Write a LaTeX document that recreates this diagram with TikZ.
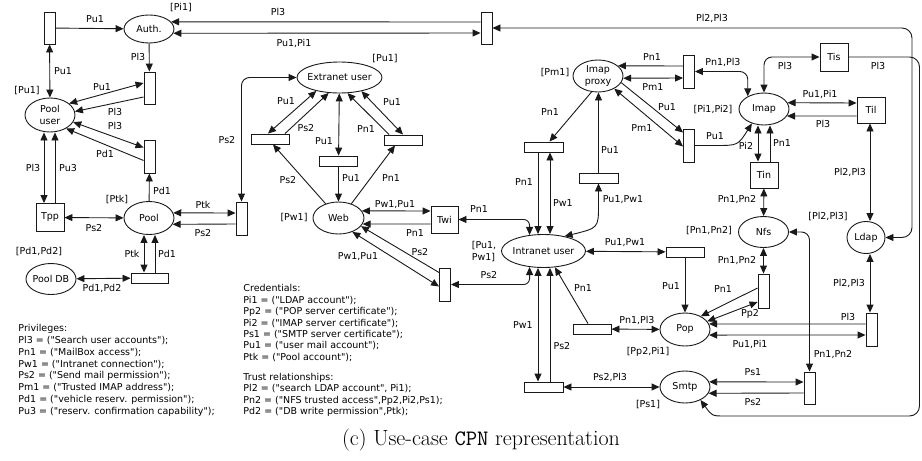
\documentclass[tikz,border=0pt]{standalone}
\usepackage{fontspec}
\newfontfamily\dvs{DejaVu Sans}
\usetikzlibrary{arrows.meta,shapes.geometric}
\newcommand\lblfont{\dvs\fontsize{9.5}{11.6}\selectfont}
\begin{document}
\begin{tikzpicture}[x=1pt,y=-1pt,>={Triangle[length=8pt,width=7pt]},line width=0.9pt,draw=black!90,
 place/.style={draw,ellipse,inner sep=0pt},
 vt/.style={draw,rectangle,inner sep=0pt,minimum width=11pt,minimum height=33pt},
 ht/.style={draw,rectangle,inner sep=0pt,minimum width=38pt,minimum height=10pt},
 bt/.style={draw,rectangle,inner sep=0pt,minimum width=28pt,minimum height=27pt,font=\lblfont},
 lbl/.style={font=\lblfont,inner sep=0pt},
 txt/.style={inner sep=0pt,align=left,anchor=north west}]
\useasboundingbox (0,0) rectangle (922,461);

% ---------- places ----------
\node[place,minimum width=50pt,minimum height=28pt,label={[lbl]center:Auth.}] (auth) at (149,29) {};
\node[place,minimum width=50pt,minimum height=34pt,label={[lbl,align=center]center:{Pool\\user}}] (pooluser) at (50,115) {};
\node[place,minimum width=50pt,minimum height=33pt,label={[lbl]center:Pool}] (pool) at (149,218) {};
\node[place,minimum width=50pt,minimum height=31pt,label={[lbl]center:Pool DB}] (pooldb) at (51,279) {};
\node[place,minimum width=85pt,minimum height=31pt,label={[lbl]center:Extranet user}] (extranet) at (339.5,77.5) {};
\node[place,minimum width=51pt,minimum height=32pt,label={[lbl]center:Web}] (web) at (338.5,218) {};
\node[place,minimum width=84pt,minimum height=33pt,label={[lbl]center:Intranet user}] (intranet) at (543.5,251) {};
\node[place,minimum width=50pt,minimum height=32pt,label={[lbl,align=center]center:{Imap\\proxy}}] (imapproxy) at (598,76) {};
\node[place,minimum width=50pt,minimum height=32pt,label={[lbl]center:Imap}] (imap) at (764,109) {};
\node[place,minimum width=50pt,minimum height=31pt,label={[lbl]center:Nfs}] (nfs) at (763.5,232) {};
\node[place,minimum width=38pt,minimum height=32pt,label={[lbl]center:Ldap}] (ldap) at (866,237.5) {};
\node[place,minimum width=50pt,minimum height=33pt,label={[lbl]center:Pop}] (pop) at (685,329.5) {};
\node[place,minimum width=50pt,minimum height=32pt,label={[lbl]center:Smtp}] (smtp) at (685,387) {};

% ---------- transitions ----------
\node[vt,minimum height=32pt] (t1) at (49.5,28) {};
\node[vt,minimum height=32pt] (tpa) at (149.5,88) {};
\node[vt] (tpd) at (149.5,156.5) {};
\node[bt,minimum height=28pt] (tpp) at (50,217.5) {Tpp};
\node[vt] (tpk) at (241.5,218.5) {};
\node[ht,minimum width=37pt] (tpool) at (149.5,278) {};
\node[vt,minimum height=32pt] (tauth) at (486.5,28) {};
\node[ht] (tel) at (270,139) {};
\node[ht] (tem) at (338.5,161) {};
\node[ht] (ter) at (403,140) {};
\node[bt,minimum width=27pt] (twi) at (444.5,219.5) {Twi};
\node[vt] (tws) at (445,284.5) {};
\node[ht,minimum width=39pt] (tia) at (543.5,147) {};
\node[ht,minimum width=39pt] (tpu) at (598.5,178) {};
\node[vt] (tip) at (689,71.5) {};
\node[vt] (tmi) at (689,145.5) {};
\node[bt,minimum height=28pt] (tis) at (834,57) {Tis};
\node[bt,minimum height=26pt] (til) at (871,110) {Til};
\node[bt,minimum height=26pt] (tin) at (764,175) {Tin};
\node[vt,minimum height=34pt] (tnp) at (763.5,291) {};
\node[ht] (tup) at (685,252) {};
\node[ht] (tpl) at (592,329) {};
\node[vt] (tlp) at (871.5,329.5) {};
\node[ht,minimum width=39pt] (tib) at (543.5,387) {};
\node[vt,minimum height=32pt] (tsm) at (809.5,388) {};

% ---------- markings ----------
\node[lbl] (m1) at (181,8) {[Pi1]};
\node[lbl] (m2) at (27,91) {[Pu1]};
\node[lbl] (m3) at (117,200) {[Ptk]};
\node[lbl] (m4) at (39,252) {[Pd1,Pd2]};
\node[lbl] (m5) at (385,59) {[Pu1]};
\node[lbl] (m6) at (294,218) {[Pw1]};
\node[lbl,align=left] (m7) at (484,251.5) {[Pu1,\\Pw1]};
\node[lbl] (m8) at (555,73) {[Pm1]};
\node[lbl] (m9) at (713,110) {[Pi1,Pi2]};
\node[lbl] (m10) at (709,231) {[Pn1,Pn2]};
\node[lbl] (m11) at (828,217) {[Pl2,Pl3]};
\node[lbl] (m12) at (648,352) {[Pp2,Pi1]};
\node[lbl] (m13) at (648,405) {[Ps1]};

% ---------- connectors: left part ----------
\draw[->] (t1) -- (auth) node[lbl] at (95,19) {Pu1};
\draw[<->] (t1) -- (pooluser) node[lbl] at (63,71) {Pu1};
\draw[->] ([yshift=6pt]tauth.west) -- (auth.18) node[lbl] at (278,12) {Pl3};
\draw[<->] (auth.-10) -- ([yshift=-5pt]tauth.west) node[lbl] at (294,43) {Pu1,Pi1};
\draw[->] (auth) -- (tpa) node[lbl] at (138,57) {Pl3};
\draw[<->] (pooluser.31) -- ([yshift=5pt]tpa.west) node[lbl] at (102,87) {Pu1};
\draw[->] ([yshift=-9pt]tpa.west) -- (pooluser.8) node[lbl] at (115,112) {Pl3};
\draw[<->] (pooluser.-17) -- ([yshift=9pt]tpd.west) node[lbl] at (115,126) {Pl3};
\draw[->] ([yshift=-4pt]tpd.west) -- (pooluser.-40) node[lbl] at (105,154) {Pd1};
\draw[->] (pool) -- (tpd) node[lbl] at (162,191) {Pd1};
\draw[<->] ([xshift=-6pt]tpp.north) -- ([xshift=-6pt]tpp.north |- pooluser.south) node[lbl] at (33,168) {Pl3};
\draw[->] ([xshift=5pt]tpp.north) -- ([xshift=5pt]tpp.north |- pooluser.south) node[lbl] at (68,168) {Pu3};
\draw[<->] (tpp) -- (pool) node[lbl] at (94,228) {Ps2};
\draw[<->] (pool.12) -- ([yshift=5.5pt]tpk.west) node[lbl] at (203,205) {Ptk};
\draw[->] ([yshift=-5.5pt]tpk.west) -- (pool.-15) node[lbl] at (203,233) {Ps2};
\draw[<->,rounded corners=8pt] (tpk.north) |- (extranet.west) node[lbl] at (227,140) {Ps2};
\draw[<->] ([xshift=-5.5pt]tpool.north) -- ([xshift=-5.5pt]tpool.north |- pool.south) node[lbl] at (132,254) {Ptk};
\draw[->] ([xshift=5.5pt]tpool.north) -- ([xshift=5.5pt]tpool.north |- pool.south) node[lbl] at (167,254) {Pd1};
\draw[<->] (pooldb) -- (tpool) node[lbl] at (102,288) {Pd1,Pd2};

% ---------- extranet / web ----------
\draw[<->] (extranet.-150) -- ([xshift=-2pt]tel.north) node[lbl] at (286,101) {Pu1};
\draw[->] ([xshift=15pt]tel.north) -- (extranet.-125) node[lbl] at (306,128) {Ps2};
\draw[<->] (tem) -- (extranet) node[lbl] at (324,141) {Pu1};
\draw[->] (tem) -- (web) node[lbl] at (351,178) {Pu1};
\draw[->] ([xshift=-14pt]ter.north) -- (extranet.-63) node[lbl] at (366,129) {Pn1};
\draw[<->] (extranet.-32) -- (ter.north) node[lbl] at (392,102) {Pu1};
\draw[->] (web.132) -- ([xshift=3pt]tel.south) node[lbl] at (288,180) {Ps2};
\draw[->] (web.48) -- ([xshift=-8pt]ter.south) node[lbl] at (391,178) {Pn1};
\draw[<->] (web.17) -- ([yshift=8.5pt]twi.west) node[lbl] at (395,205) {Pw1,Pu1};
\draw[->] ([yshift=-4.5pt]twi.west) -- (web.-14) node[lbl] at (415,233) {Pn1};
\draw[->] ([yshift=12pt]tws.west) -- (web.-20) node[lbl] at (420,252) {Ps2};
\draw[<->] (web.-45) -- ([yshift=-2pt]tws.west) node[lbl] at (358,257) {Pw1,Pu1};
\draw[<->,rounded corners=6pt] (tws.east) -| (intranet.-131) node[lbl] at (489,275) {Ps2};
\draw[<->,rounded corners=6pt] (twi.east) -| (intranet.131) node[lbl] at (479,209) {Pn1};

% ---------- intranet / imap proxy ----------
\draw[->] ([xshift=-5.5pt]tia.south) -- ([xshift=-5.5pt]tia.south |- intranet.north) node[lbl] at (524,182) {Pn1};
\draw[<->] ([xshift=6.5pt]tia.south) -- ([xshift=6.5pt]tia.south |- intranet.north) node[lbl] at (563,203) {Pw1};
\draw[->] (imapproxy.-112) -- ([xshift=6pt]tia.north) node[lbl] at (550,112) {Pn1};
\draw[->] (tpu.north) -- (tpu.north |- imapproxy.south) node[lbl] at (610,150) {Pu1};
\draw[<->] (tpu.south) -- (598.5,205) .. controls (598.5,228) .. (intranet.35) node[lbl] at (623,200) {Pu1,Pw1};
\draw[->] ([yshift=5.5pt]tip.west) -- (imapproxy.27) node[lbl] at (652,57) {Pn1};
\draw[<->] (imapproxy.-5) -- ([yshift=-6.5pt]tip.west) node[lbl] at (653,87) {Pm1};
\draw[<->,rounded corners=8pt] (tip.east) -| (imap.142) node[lbl] at (723,62) {Pn1,Pl3};
\draw[->] (imapproxy.-16) -- ([yshift=13pt]tmi.west) node[lbl] at (667,107) {Pu1};
\draw[<->] (imapproxy.-38) -- ([yshift=-1pt]tmi.west) node[lbl] at (642,128) {Pm1};
\draw[->] (tmi.east) -- (715,145.5) .. controls (738,145.5) .. (imap.-130) node[lbl] at (715,136) {Pu1};

% ---------- imap / right part ----------
\draw[<->,rounded corners=8pt] (imap.north) |- (tis.west) node[lbl] at (785,66) {Pl3};
\draw[->,rounded corners=10pt] (tis.east) -| (919.5,416) -- (735,416) .. controls (712,416) .. (smtp.-40) node[lbl] at (878,66) {Pl3};
\draw[<->,rounded corners=10pt] (tauth.east) -| (912,237.5) -- (ldap.east) node[lbl] at (712,18) {Pl2,Pl3};
\draw[<->] (imap.15) -- ([yshift=7pt]til.west) node[lbl] at (820,94) {Pu1,Pi1};
\draw[->] ([yshift=-6pt]til.west) -- (imap.-17) node[lbl] at (823,124) {Pl3};
\draw[<->] ([xshift=-1pt]til.south) -- ([xshift=-1pt]til.south |- ldap.north) node[lbl] at (850,172) {Pl2,Pl3};
\draw[<->] ([xshift=-6pt]tin.north) -- ([xshift=-6pt]tin.north |- imap.south) node[lbl] at (746,146) {Pi2};
\draw[->] ([xshift=6pt]tin.north) -- ([xshift=6pt]tin.north |- imap.south) node[lbl] at (782,143) {Pn1};
\draw[<->] (tin) -- (nfs) node[lbl] at (737,200) {Pn1,Pn2};
\draw[<->] (nfs) -- (tnp) node[lbl] at (737,261) {Pn1,Pn2};
\draw[->] ([yshift=3pt]tnp.west) -- (pop.40) node[lbl] at (723,289) {Pn1};
\draw[<->] (pop.20) -- ([yshift=-11pt]tnp.west) node[lbl] at (750,314) {Pp2};
\draw[->] ([yshift=5.5pt]tlp.west) -- (pop.13) node[lbl] at (848,317) {Pl3};
\draw[<->] (pop.-13) -- ([yshift=-5.5pt]tlp.west) node[lbl] at (750,344) {Pu1,Pi1};
\draw[<->] ([xshift=-1.5pt]tlp.north) -- ([xshift=-1.5pt]tlp.north |- ldap.south) node[lbl] at (849,283) {Pl2,Pl3};
\draw[<->,rounded corners=8pt] (nfs.east) -| (tsm.north) node[lbl] at (833,355) {Pn1,Pn2};
\draw[<->] (smtp.12) -- ([yshift=6pt]tsm.west) node[lbl] at (753,372) {Ps1};
\draw[->] ([yshift=-5pt]tsm.west) -- (smtp.-15) node[lbl] at (753,402) {Ps2};

% ---------- intranet / pop / smtp ----------
\draw[<->] (intranet) -- (tup) node[lbl] at (625,243) {Pu1,Pw1};
\draw[->] (tup) -- (pop) node[lbl] at (671,286) {Pu1};
\draw[<->] (tpl) -- (pop) node[lbl] at (637,320) {Pn1,Pl3};
\draw[->] ([xshift=-4pt]tpl.north) -- (intranet.-55) node[lbl] at (583,288) {Pn1};
\draw[<->] ([xshift=-5.5pt]tib.north) -- ([xshift=-5.5pt]tib.north |- intranet.south) node[lbl] at (523,325) {Pw1};
\draw[->] ([xshift=6.5pt]tib.north) -- ([xshift=6.5pt]tib.north |- intranet.south) node[lbl] at (562,346) {Ps2};
\draw[<->] (tib) -- (smtp) node[lbl] at (610,377) {Ps2,Pl3};

% ---------- text blocks ----------
\node[txt,font=\dvs\fontsize{9.5}{11.8}\selectfont] (priv) at (18,324) {Privileges:\\
Pl3 = ("Search user accounts");\\
Pn1 = ("MailBox access");\\
Pw1 = ("Intranet connection");\\
Ps2 = ("Send mail permission");\\
Pm1 = ("Trusted IMAP address");\\
Pd1 = ("vehicle reserv. permission");\\
Pu3 = ("reserv. confirmation capability");};
\node[txt,font=\dvs\fontsize{9.5}{11.45}\selectfont] (cred) at (243,284) {Credentials:\\
Pi1 = ("LDAP account");\\
Pp2 = ("POP server certificate");\\
Pi2 = ("IMAP server certificate");\\
Ps1 = ("SMTP server certificate");\\
Pu1 = ("user mail account");\\
Ptk = ("Pool account");\\[8.5pt]
Trust relationships:\\
Pl2 = ("search LDAP account", Pi1);\\
Pn2 = ("NFS trusted access",Pp2,Pi2,Ps1);\\
Pd2 = ("DB write permission",Ptk);};
\node (cap) at (481,440) {\fontsize{22}{26}\selectfont (c) Use-case \texttt{CPN} representation};
\end{tikzpicture}
\end{document}
